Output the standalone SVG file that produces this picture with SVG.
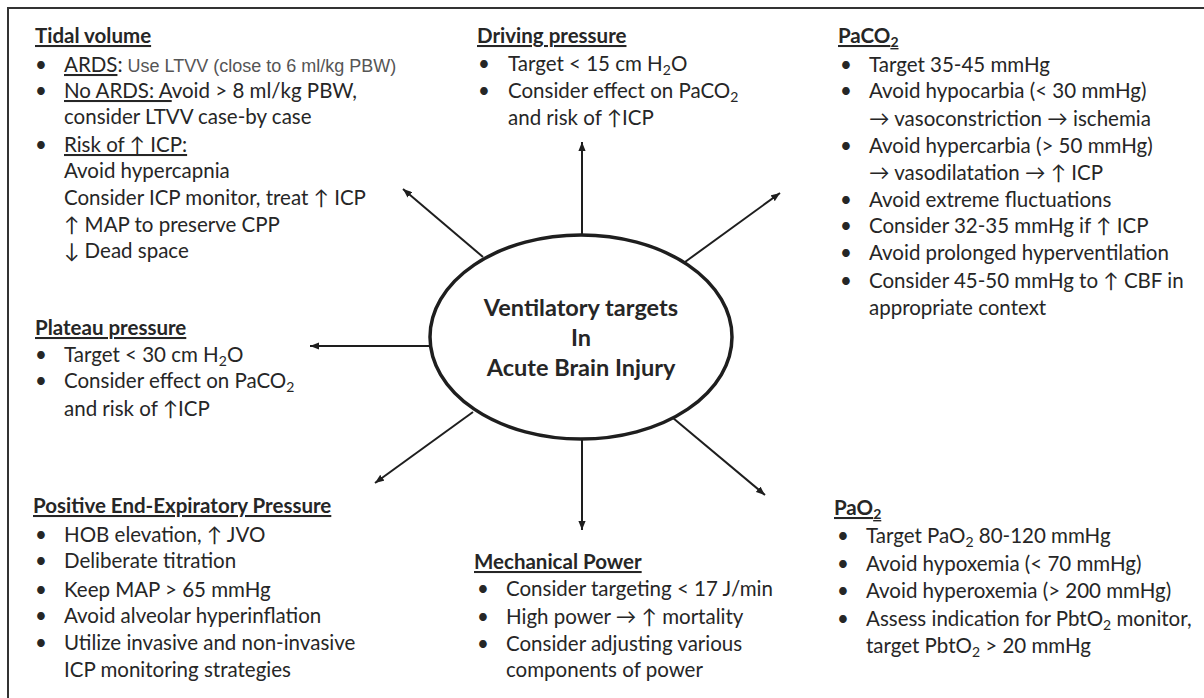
<svg xmlns="http://www.w3.org/2000/svg" width="1204" height="698" viewBox="0 0 1204 698">
<defs>
<marker id="ah" viewBox="0 0 10 8" refX="10" refY="4" markerWidth="4.5" markerHeight="3.6" orient="auto" markerUnits="strokeWidth">
<path d="M0,0 L10,4 L0,8 z" fill="#1e1e1e"/>
</marker>
</defs>
<style>
.t{font-family:Lato,"Open Sans","DejaVu Sans",sans-serif;font-size:20.5px;fill:#262626}
.h{font-weight:700;text-decoration:underline}
.u{text-decoration:underline}
.g{font-family:"Liberation Sans",Arial,sans-serif;font-size:18px;fill:#555}
.s{font-size:14px}
.c{stroke:#1e1e1e;stroke-width:2;fill:none;marker-end:url(#ah)}
.ctr{font-family:Lato,"Open Sans","DejaVu Sans",sans-serif;font-size:23.5px;font-weight:700;fill:#262626;text-anchor:middle}
</style>
<rect x="0" y="0" width="1204" height="698" fill="#fff"/>
<path d="M8,698 V8 H1204" fill="none" stroke="#333" stroke-width="2"/>

<g id="connectors">
<path class="c" d="M582,235 L582,142"/>
<path class="c" d="M483,257 L403,189"/>
<path class="c" d="M685,262 L780,193"/>
<path class="c" d="M429,346 L310,346"/>
<path class="c" d="M473,412 L375,483"/>
<path class="c" d="M582,438 L582,530"/>
<path class="c" d="M673,418 L765,495"/>
</g>

<g id="center">
<ellipse cx="581" cy="337" rx="151" ry="102" fill="#fff" stroke="#1e1e1e" stroke-width="3.5"/>
<text class="ctr" x="581" y="316">Ventilatory targets</text>
<text class="ctr" x="581" y="346">In</text>
<text class="ctr" x="581" y="376">Acute Brain Injury</text>
</g>

<g id="tidal-volume" class="t">
<text class="t h" x="35" y="43">Tidal volume</text>
<text class="t" x="35" y="72">•</text>
<text class="t" x="64" y="72"><tspan class="u">ARDS</tspan>:<tspan class="g"> Use LTVV (close to 6 ml/kg PBW)</tspan></text>
<text class="t" x="35" y="98">•</text>
<text class="t" x="64" y="98"><tspan class="u">No ARDS: A</tspan>void &gt; 8 ml/kg PBW,</text>
<text class="t" x="64" y="124">consider LTVV case-by case</text>
<text class="t" x="35" y="152">•</text>
<text class="t" x="64" y="152"><tspan class="u">Risk of ↑ ICP:</tspan></text>
<text class="t" x="64" y="178">Avoid hypercapnia</text>
<text class="t" x="64" y="205">Consider ICP monitor, treat ↑ ICP</text>
<text class="t" x="64" y="232">↑ MAP to preserve CPP</text>
<text class="t" x="64" y="258">↓ Dead space</text>
</g>

<g id="driving-pressure">
<text class="t h" x="477" y="43">Driving pressure</text>
<text class="t" x="478" y="71">•</text>
<text class="t" x="508" y="71">Target &lt; 15 cm H<tspan class="s" dy="4">2</tspan><tspan dy="-4">O</tspan></text>
<text class="t" x="478" y="98">•</text>
<text class="t" x="508" y="98">Consider effect on PaCO<tspan class="s" dy="4">2</tspan></text>
<text class="t" x="508" y="125">and risk of ↑ICP</text>
</g>

<g id="paco2">
<text class="t h" x="838" y="43">PaCO<tspan class="s" dy="4">2</tspan></text>
<text class="t" x="840" y="72">•</text>
<text class="t" x="869" y="72">Target 35-45 mmHg</text>
<text class="t" x="840" y="98">•</text>
<text class="t" x="869" y="98">Avoid hypocarbia (&lt; 30 mmHg)</text>
<text class="t" x="869" y="126">→ vasoconstriction → ischemia</text>
<text class="t" x="840" y="153">•</text>
<text class="t" x="869" y="153">Avoid hypercarbia (&gt; 50 mmHg)</text>
<text class="t" x="869" y="180">→ vasodilatation → ↑ ICP</text>
<text class="t" x="840" y="207">•</text>
<text class="t" x="869" y="207">Avoid extreme fluctuations</text>
<text class="t" x="840" y="233">•</text>
<text class="t" x="869" y="233">Consider 32-35 mmHg if ↑ ICP</text>
<text class="t" x="840" y="260">•</text>
<text class="t" x="869" y="260">Avoid prolonged hyperventilation</text>
<text class="t" x="840" y="288">•</text>
<text class="t" x="869" y="288">Consider 45-50 mmHg to ↑ CBF in</text>
<text class="t" x="869" y="315">appropriate context</text>
</g>

<g id="plateau-pressure">
<text class="t h" x="35" y="335">Plateau pressure</text>
<text class="t" x="35" y="362">•</text>
<text class="t" x="64" y="362">Target &lt; 30 cm H<tspan class="s" dy="4">2</tspan><tspan dy="-4">O</tspan></text>
<text class="t" x="35" y="388">•</text>
<text class="t" x="64" y="388">Consider effect on PaCO<tspan class="s" dy="4">2</tspan></text>
<text class="t" x="64" y="416">and risk of ↑ICP</text>
</g>

<g id="peep">
<text class="t h" x="33" y="513">Positive End-Expiratory Pressure</text>
<text class="t" x="35" y="542">•</text>
<text class="t" x="64" y="542">HOB elevation, ↑ JVO</text>
<text class="t" x="35" y="568">•</text>
<text class="t" x="64" y="568">Deliberate titration</text>
<text class="t" x="35" y="597">•</text>
<text class="t" x="64" y="597">Keep MAP &gt; 65 mmHg</text>
<text class="t" x="35" y="623">•</text>
<text class="t" x="64" y="623">Avoid alveolar hyperinflation</text>
<text class="t" x="35" y="650">•</text>
<text class="t" x="64" y="650">Utilize invasive and non-invasive</text>
<text class="t" x="64" y="677">ICP monitoring strategies</text>
</g>

<g id="mechanical-power">
<text class="t h" x="474" y="569">Mechanical Power</text>
<text class="t" x="477" y="596">•</text>
<text class="t" x="506" y="596">Consider targeting &lt; 17 J/min</text>
<text class="t" x="477" y="624">•</text>
<text class="t" x="506" y="624">High power  → ↑ mortality</text>
<text class="t" x="477" y="651">•</text>
<text class="t" x="506" y="651">Consider adjusting various</text>
<text class="t" x="506" y="677">components of power</text>
</g>

<g id="pao2">
<text class="t h" x="834" y="515">PaO<tspan class="s" dy="4">2</tspan></text>
<text class="t" x="837" y="543">•</text>
<text class="t" x="866" y="543">Target PaO<tspan class="s" dy="4">2</tspan><tspan dy="-4"> 80-120 mmHg</tspan></text>
<text class="t" x="837" y="571">•</text>
<text class="t" x="866" y="571">Avoid hypoxemia (&lt; 70 mmHg)</text>
<text class="t" x="837" y="598">•</text>
<text class="t" x="866" y="598">Avoid hyperoxemia (&gt; 200 mmHg)</text>
<text class="t" x="837" y="626">•</text>
<text class="t" x="866" y="626">Assess indication for PbtO<tspan class="s" dy="4">2</tspan><tspan dy="-4"> monitor,</tspan></text>
<text class="t" x="866" y="653">target PbtO<tspan class="s" dy="4">2</tspan><tspan dy="-4"> &gt; 20 mmHg</tspan></text>
</g>
</svg>
